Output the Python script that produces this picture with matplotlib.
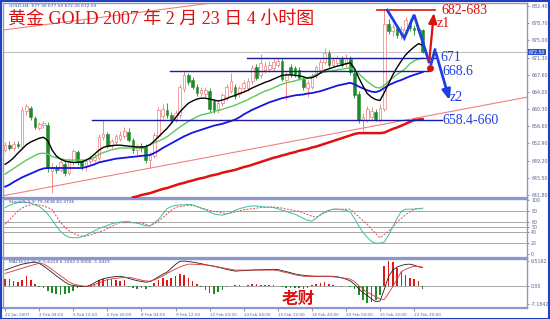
import matplotlib
matplotlib.use("Agg")
import matplotlib.pyplot as plt
import numpy as np
from matplotlib.transforms import blended_transform_factory

# ---------------- data ----------------
opens = [651.5, 652.5, 652.0, 652.8, 652.1, 659.8, 660.5, 658.3, 656.2, 656.8,
         656.9, 647.0, 647.6, 647.2, 648.5, 646.6, 648.8, 651.0, 649.0, 648.0,
         649.0, 649.3, 649.8, 654.3, 654.9, 652.3, 653.2, 653.9, 654.5, 655.4,
         653.6, 651.5, 652.3, 652.2, 649.4, 650.2, 654.5, 658.8, 660.0, 659.0,
         658.1, 659.0, 664.6, 667.6, 666.6, 665.0, 663.7, 663.4, 664.2, 662.0,
         660.0, 661.5, 662.8, 664.2, 665.0, 663.5, 664.7, 664.8, 666.2, 669.3,
         667.5, 668.6, 668.8, 669.0, 669.8, 670.6, 666.4, 669.3, 669.0, 668.6,
         666.8, 664.8, 665.0, 667.4, 668.6, 670.4, 672.3, 669.8, 670.2, 671.0,
         669.9, 671.0, 668.0, 663.6, 657.9, 658.0, 658.5, 659.7, 658.0, 660.3,
         678.5, 677.0, 677.6, 676.2, 677.2, 679.0, 677.6, 677.4, 677.3]
highs = [653.2, 653.5, 653.5, 653.4, 660.8, 661.4, 661.0, 658.8, 657.5, 657.8,
         657.4, 648.6, 648.3, 649.4, 649.0, 649.8, 651.6, 651.5, 649.6, 649.6,
         650.2, 650.6, 654.8, 657.9, 655.4, 653.8, 655.0, 655.5, 656.5, 656.2,
         654.1, 652.8, 653.0, 652.7, 651.0, 655.3, 660.8, 661.3, 661.5, 659.6,
         660.0, 665.6, 668.4, 668.1, 667.2, 665.6, 665.0, 665.0, 664.8, 662.5,
         662.3, 663.8, 665.6, 668.0, 665.6, 665.3, 666.6, 667.0, 669.8, 670.0,
         672.0, 670.4, 670.5, 671.0, 671.2, 671.2, 668.3, 670.0, 669.6, 669.2,
         667.4, 666.5, 667.9, 669.8, 671.0, 673.4, 673.0, 671.5, 671.8, 671.6,
         672.0, 671.6, 668.6, 664.2, 659.4, 660.9, 660.6, 660.3, 661.3, 681.8,
         679.6, 678.6, 678.0, 678.0, 680.0, 679.6, 678.4, 678.0, 677.5]
lows = [651.0, 651.5, 651.3, 651.8, 651.5, 659.0, 658.0, 656.0, 655.8, 656.3,
        646.8, 642.3, 646.5, 646.7, 645.8, 646.0, 648.3, 648.3, 647.2, 647.0,
        648.5, 648.8, 649.3, 653.6, 651.8, 651.9, 652.8, 653.5, 654.1, 653.1,
        650.9, 650.4, 651.1, 648.7, 647.6, 649.8, 654.0, 658.2, 658.4, 657.4,
        657.5, 658.4, 664.0, 665.4, 664.5, 663.0, 663.0, 662.8, 659.6, 659.4,
        659.5, 661.0, 662.3, 663.8, 662.4, 662.9, 664.2, 664.2, 665.7, 666.4,
        667.0, 668.0, 668.2, 668.5, 669.2, 666.2, 662.2, 667.2, 667.2, 666.5,
        664.4, 662.8, 664.5, 666.9, 668.0, 669.9, 669.1, 669.2, 669.6, 669.2,
        669.4, 667.6, 662.6, 657.2, 655.5, 657.5, 657.9, 657.6, 657.4, 659.8,
        676.4, 676.0, 675.6, 675.4, 676.8, 677.0, 676.2, 676.8, 672.2]
closes = [652.5, 652.0, 652.8, 652.3, 660.0, 661.0, 658.5, 656.5, 657.0, 657.3,
          647.6, 647.8, 647.2, 648.8, 646.5, 649.0, 651.2, 648.9, 648.0, 649.2,
          649.6, 650.0, 654.3, 655.0, 652.3, 653.3, 654.4, 654.7, 655.6, 653.6,
          651.5, 652.3, 651.8, 649.3, 650.5, 654.6, 660.0, 660.2, 659.0, 658.0,
          659.4, 665.0, 667.6, 666.0, 665.0, 663.7, 664.4, 664.4, 660.2, 660.0,
          661.6, 663.2, 665.0, 666.3, 663.0, 664.7, 665.8, 666.3, 669.1, 667.0,
          670.1, 669.6, 669.8, 670.4, 670.6, 666.8, 667.6, 667.8, 667.8, 667.0,
          665.0, 665.9, 667.2, 669.2, 670.4, 672.3, 669.7, 670.8, 671.2, 669.8,
          671.2, 668.2, 663.3, 657.9, 658.6, 660.2, 659.8, 658.2, 660.4, 678.5,
          677.0, 677.8, 676.2, 677.4, 679.3, 677.6, 677.3, 677.3, 672.5]

ma_black = [648.4, 649.0, 649.8, 650.8, 651.7, 652.6, 653.2, 653.6, 654.0, 654.2,
            653.5, 651.5, 650.2, 649.5, 649.1, 648.9, 648.8, 648.8, 648.9, 649.3,
            649.8, 650.6, 651.4, 652.0, 652.3, 652.4, 652.5, 652.5, 652.4, 652.3,
            652.2, 652.1, 652.1, 652.2, 652.6, 653.4, 654.3, 655.2, 656.1, 657.2,
            658.4, 659.6, 660.6, 661.5, 662.0, 662.4, 662.6, 662.6, 662.4, 662.2,
            662.0, 662.2, 662.5, 662.9, 663.2, 663.6, 663.9, 664.3, 664.8, 665.2,
            665.6, 666.0, 666.3, 666.7, 667.1, 667.5, 667.6, 667.6, 667.5, 667.4,
            667.2, 666.9, 667.0, 667.4, 668.0, 668.6, 668.9, 669.2, 669.5, 669.7,
            670.0, 670.2, 669.0, 667.0, 665.2, 663.6, 662.8, 662.3, 662.1, 663.8,
            665.7, 667.6, 669.2, 670.6, 671.9, 672.8, 673.6, 674.3, 674.0]
ma_green = [646.3, 646.9, 647.5, 648.1, 648.7, 649.3, 649.8, 650.3, 650.7, 650.8,
            650.6, 650.1, 649.8, 649.6, 649.4, 649.3, 649.3, 649.3, 649.3, 649.3,
            649.5, 649.9, 650.5, 650.9, 651.2, 651.5, 651.7, 651.9, 651.9, 651.9,
            651.9, 651.9, 651.9, 652.2, 652.6, 653.0, 653.4, 653.8, 654.3, 655.0,
            655.7, 656.4, 657.0, 657.6, 658.1, 658.6, 659.0, 659.2, 659.4, 659.7,
            660.0, 660.2, 660.5, 660.8, 661.1, 661.5, 661.9, 662.3, 662.8, 663.2,
            663.7, 664.1, 664.4, 664.8, 665.2, 665.6, 665.9, 666.1, 666.3, 666.6,
            666.8, 667.0, 667.3, 667.7, 668.0, 668.2, 668.4, 668.5, 668.7, 668.8,
            669.0, 669.1, 668.6, 667.9, 667.0, 666.2, 665.5, 664.9, 664.8, 665.4,
            666.2, 667.0, 667.7, 668.3, 669.0, 670.0, 670.6, 671.0, 671.2]
ma_blue = [643.6, 644.0, 644.6, 645.1, 645.6, 646.0, 646.4, 646.8, 647.2, 647.5,
           647.6, 647.6, 647.6, 647.6, 647.6, 647.6, 647.6, 647.6, 647.6, 647.8,
           648.1, 648.4, 648.8, 649.0, 649.2, 649.4, 649.6, 649.7, 649.8, 649.9,
           650.0, 650.1, 650.2, 650.3, 650.4, 650.8, 651.3, 651.9, 652.4, 652.9,
           653.4, 653.9, 654.4, 654.8, 655.2, 655.5, 655.8, 656.1, 656.4, 656.7,
           656.9, 657.1, 657.4, 657.7, 658.0, 658.5, 659.1, 659.6, 660.1, 660.5,
           660.9, 661.3, 661.7, 662.0, 662.3, 662.6, 662.8, 663.0, 663.2, 663.3,
           663.4, 663.6, 663.7, 663.9, 664.1, 664.4, 664.7, 665.0, 665.3, 665.5,
           665.7, 665.9, 665.6, 665.1, 664.7, 664.3, 664.0, 663.9, 664.2, 664.8,
           665.4, 665.8, 666.2, 666.5, 666.9, 667.3, 667.6, 667.9, 668.2]
ma_red_start = 30
ma_red = [641.3, 641.5, 641.8, 642.0, 642.2, 642.5, 642.8, 643.1, 643.3, 643.6,
          643.9, 644.2, 644.4, 644.7, 644.9, 645.2, 645.4, 645.6, 645.9, 646.1,
          646.3, 646.6, 646.8, 647.0, 647.2, 647.5, 647.8, 648.0, 648.3, 648.6,
          648.9, 649.2, 649.5, 649.8, 650.0, 650.3, 650.5, 650.8, 651.0, 651.3,
          651.5, 651.7, 652.0, 652.2, 652.5, 652.8, 653.1, 653.4, 653.7, 654.0,
          654.3, 654.6, 654.9, 655.1, 655.1, 655.1, 655.1, 655.1, 655.1, 655.2,
          655.6, 656.0, 656.3, 656.7, 657.1, 657.5, 657.9, 658.0, 658.1]

stoch_main = [86, 90, 93, 95, 96, 96, 94, 91, 88, 82, 74, 63, 52, 42, 35, 31, 30, 30, 32, 35,
              39, 43, 47, 50, 53, 56, 58, 59, 60, 60, 58, 57, 55, 52, 52, 58, 64, 74, 84, 88,
              90, 91, 91, 92, 91, 88, 85, 82, 78, 74, 73, 72, 74, 77, 81, 84, 86, 88, 89, 89,
              88, 87, 87, 86, 84, 81, 79, 76, 74, 70, 66, 62, 61, 66, 73, 78, 81, 83, 83, 82,
              81, 78, 66, 52, 40, 31, 23, 20, 20, 22, 35, 50, 66, 79, 83, 83, 83, 84, 85]
stoch_signal = [55, 63, 72, 80, 85, 89, 91, 92, 91, 89, 86, 83, 70, 58, 50, 43, 38, 35, 33, 33,
                35, 38, 41, 43, 47, 51, 55, 58, 58, 58, 58, 58, 58, 55, 52, 56, 61, 67, 74, 81,
                86, 88, 89, 90, 90, 88, 85, 83, 81, 79, 78, 76, 75, 76, 78, 80, 82, 83, 84, 85,
                86, 86, 87, 87, 86, 85, 83, 82, 80, 79, 76, 73, 70, 68, 72, 76, 80, 83, 83, 83,
                83, 83, 76, 69, 62, 55, 46, 38, 30, 36, 42, 50, 59, 66, 73, 78, 83, 84, 84]

macd_hist = [2.4, 2.4, 1.6, 1.2, 2.0, 3.6, 2.0, 0.6, -0.4, -1.0, -2.0, -3.0, -3.4, -3.6, -3.4,
             -3.0, -2.2, -1.0, -0.3, -0.2, 0.2, 0.8, 2.2, 2.6, 2.0, 2.4, 2.0, 1.6, 2.0, -0.4,
             -1.0, -1.2, -0.8, -1.4, -0.6, 1.0, 2.0, 2.8, 2.2, 2.8, 3.6, 4.4, 4.0, 3.0, 1.6,
             0.6, -0.6, -1.8, -2.8, -3.4, -2.6, -1.6, -0.6, -0.2, 0.2, 0.3, -0.1, 0.2, 0.6, 0.8,
             0.3, 0.2, 0.1, 0.05, -0.1, -0.6, -0.8, -0.9, -0.8, -1.0, -1.2, -0.8, 0.3, 0.5, 0.9,
             1.2, 0.8, 0.3, -0.2, -0.4, -0.1, -0.5, -1.5, -3.5, -5.6, -6.8, -6.4, -5.6, -3.8, 7.5,
             9.5, 9.0, 7.0, 5.5, 4.0, 3.0, 2.6, 1.6, -1.2]
macd_line = [6.0, 6.6, 7.2, 7.8, 8.3, 8.6, 8.9, 9.1, 8.6, 7.6, 6.4, 5.1, 3.8, 2.6, 1.4, 0.4,
             0.0, -0.2, -0.3, -0.4, 0.2, 1.1, 2.0, 2.6, 3.0, 3.3, 3.5, 3.6, 3.3, 2.8, 2.3, 1.9,
             1.6, 1.3, 1.5, 2.4, 3.4, 4.4, 5.2, 6.7, 8.2, 9.4, 9.5, 9.3, 9.1, 8.8, 8.5, 8.1,
             7.8, 7.5, 7.1, 6.7, 6.3, 5.9, 5.6, 5.7, 5.8, 5.9, 6.0, 6.1, 6.1, 6.2, 6.2, 6.3,
             6.2, 5.8, 5.4, 5.0, 4.5, 4.2, 4.0, 3.8, 3.7, 3.6, 3.6, 3.6, 3.6, 3.6, 3.4, 3.0,
             2.5, 1.8, 0.5, -1.2, -2.8, -3.8, -5.2, -6.2, -6.0, -1.5, 3.5, 6.0, 7.2, 7.8, 8.2,
             8.3, 7.9, 7.3, 7.0]
macd_signal = [4.7, 5.2, 5.7, 6.2, 6.7, 7.2, 7.7, 8.2, 8.6, 8.4, 7.4, 6.3, 5.0, 3.8, 2.6, 1.4,
               0.6, 0.2, -0.1, -0.3, -0.2, 0.4, 1.0, 1.7, 2.3, 2.6, 2.8, 3.0, 3.1, 3.2, 2.9, 2.5,
               2.1, 1.8, 1.7, 2.2, 2.9, 3.7, 4.7, 5.6, 6.4, 7.2, 7.8, 8.3, 8.3, 8.2, 8.1, 8.0,
               7.8, 7.5, 7.2, 6.9, 6.6, 6.3, 6.0, 6.0, 6.0, 6.0, 6.0, 6.0, 6.0, 6.0, 6.0, 6.0,
               5.8, 5.4, 5.0, 4.6, 4.2, 3.9, 3.6, 3.6, 3.6, 3.6, 3.6, 3.6, 3.6, 3.4, 3.2, 3.0,
               2.8, 2.5, 1.5, 0.0, -1.4, -2.6, -3.4, -4.4, -5.2, -5.4, -3.0, -0.4, 2.5, 5.4, 6.3,
               7.0, 7.5, 7.4, 7.1]

time_labels = ["22 Jan 2007", "2 Feb 04:00", "5 Feb 12:00", "6 Feb 20:00", "8 Feb 04:00",
               "9 Feb 12:00", "12 Feb 20:00", "14 Feb 04:00", "15 Feb 12:00", "16 Feb 20:00",
               "20 Feb 04:00", "21 Feb 12:00", "22 Feb 20:00"]
time_label_bars = [0, 8, 16, 24, 32, 40, 48, 56, 64, 72, 80, 88, 96]

price_ticks = [682.40, 678.70, 675.00, 671.30, 667.60, 664.00, 660.30, 656.60,
               652.90, 649.20, 645.50, 641.80]
stoch_ticks = [100, 80, 60, 50, 40, 20, 0]
stoch_levels = [80, 60, 50, 40, 20]
macd_ticks = [9.5162, 0.0, -7.1842]
macd_tick_labels = ["9.5162", "0.00", "-7.1842"]
last_price = 672.50

# annotation levels (price, start bar, end bar)
level_prices = [671.2, 668.4, 657.9]
level_start = [56.8, 38.7, 20.4]
level_end = [101.0, 99.5, 102.6]
target_price = 681.5
target_start, target_end = 87.3, 101.0
zig_bars = [89.7, 93.7, 96.0, 99.5]
zig_prices = [681.5, 675.5, 680.5, 670.4]
up_arrow = [(99.5, 670.0), (100.7, 681.5)]
down_path_bars = [100.0, 100.9, 104.5]
down_path_prices = [670.0, 673.0, 661.6]
dot_point = (99.8, 669.1)
trend_low = [(-0.7, 641.6), (123.0, 662.9)]
trend_high = [(-0.7, 677.2), (54.0, 683.7)]

# ---------------- figure ----------------
W, H = 550, 319
fig = plt.figure(figsize=(W / 100, H / 100), dpi=100)
fig.patch.set_facecolor("white")


def rect(x0, y0, x1, y1):
    return [x0 / W, 1 - y1 / H, (x1 - x0) / W, (y1 - y0) / H]


BORDER = "#8b97cf"
LBL = "#5a6488"
ax_p = fig.add_axes(rect(3, 3, 527, 198))
ax_s = fig.add_axes(rect(3, 199, 527, 258))
ax_m = fig.add_axes(rect(3, 259, 527, 308))

n = len(closes)
xs = np.arange(n)
for ax in (ax_p, ax_s, ax_m):
    ax.set_xlim(-0.5, 122.5)
    ax.set_facecolor("white")
    for sp in ax.spines.values():
        sp.set_color(BORDER)
        sp.set_linewidth(1.0)
    ax.spines["bottom"].set_linewidth(1.6)
    ax.yaxis.tick_right()
    ax.tick_params(axis="y", labelsize=3.4, length=1.5, pad=1.5, colors=LBL,
                   labelcolor=LBL, width=0.5)
    ax.tick_params(axis="x", length=0)
    ax.set_xticks([])

# ---- price panel ----
ax_p.set_ylim(641.16, 683.04)
o = np.array(opens); c = np.array(closes); h = np.array(highs); l = np.array(lows)
up = c >= o
UPC = "#f07a7a"
DNC = "#1f8a2a"
ax_p.vlines(xs[up], l[up], h[up], color=UPC, lw=0.6, zorder=2)
ax_p.vlines(xs[~up], l[~up], h[~up], color=DNC, lw=0.6, zorder=2)
ax_p.bar(xs[up], np.maximum(c[up] - o[up], 0.12), bottom=o[up], width=0.62,
         facecolor="white", edgecolor=UPC, linewidth=0.5, zorder=3)
ax_p.bar(xs[~up], np.maximum(o[~up] - c[~up], 0.12), bottom=c[~up], width=0.62,
         facecolor=DNC, edgecolor=DNC, linewidth=0.4, zorder=3)

ax_p.axhline(last_price, color="#b0b0b0", lw=0.6, zorder=1)

# trend lines
ax_p.plot([p[0] for p in trend_low], [p[1] for p in trend_low], color="#f08080", lw=0.8, zorder=2)
ax_p.plot([p[0] for p in trend_high], [p[1] for p in trend_high], color="#f08080", lw=0.8,
          zorder=2, clip_on=True)

ax_p.plot(xs[ma_red_start:], ma_red, color="#e01010", lw=1.8, zorder=4)
ax_p.plot(xs, ma_blue, color="#1515e0", lw=1.3, zorder=4)
ax_p.plot(xs, ma_green, color="#5cc85c", lw=1.0, zorder=4)
ax_p.plot(xs, ma_black, color="#000000", lw=1.0, zorder=5)

# levels
for pr, s, e in zip(level_prices, level_start, level_end):
    ax_p.plot([s, e], [pr, pr], color="#1a1aa0", lw=1.0, zorder=6)
ax_p.plot([target_start, target_end], [target_price, target_price], color="#e01010", lw=1.2, zorder=6)

ax_p.plot(zig_bars, zig_prices, color="#1f3fe0", lw=2.0, zorder=7, solid_joinstyle="miter")
ax_p.annotate("", xy=up_arrow[1], xytext=up_arrow[0],
              arrowprops=dict(arrowstyle="-|>,head_width=0.25,head_length=0.6", color="#e01010", lw=1.6),
              zorder=8)
ax_p.plot(down_path_bars[:2], down_path_prices[:2], color="#1f3fe0", lw=2.0, zorder=7)
ax_p.annotate("", xy=(down_path_bars[2], down_path_prices[2]),
              xytext=(down_path_bars[1], down_path_prices[1]),
              arrowprops=dict(arrowstyle="-|>,head_width=0.25,head_length=0.6", color="#1f3fe0", lw=2.0),
              zorder=8)
ax_p.plot([dot_point[0]], [dot_point[1]], "o", color="#e01010", ms=4, zorder=9)

SERIF = ["Liberation Serif", "DejaVu Serif"]
ax_p.text(102.3, 681.4, "682-683", color="#e01010", fontsize=10, family=SERIF, va="center", ha="left", zorder=9)
ax_p.text(101.2, 678.6, "z1", color="#e01010", fontsize=10, family=SERIF, va="center", ha="left", zorder=9)
ax_p.text(102.2, 671.3, "671", color="#1f3fe0", fontsize=10, family=SERIF, va="center", ha="left", zorder=9)
ax_p.text(102.6, 668.3, "668.6", color="#1f3fe0", fontsize=10, family=SERIF, va="center", ha="left", zorder=9)
ax_p.text(104.3, 662.8, "z2", color="#1f3fe0", fontsize=10, family=SERIF, va="center", ha="left", zorder=9)
ax_p.text(102.6, 657.7, "658.4-660", color="#1f3fe0", fontsize=10, family=SERIF, va="center", ha="left", zorder=9)

ax_p.set_yticks(price_ticks)
ax_p.set_yticklabels([f"{v:.2f}" for v in price_ticks])
trans = blended_transform_factory(ax_p.transAxes, ax_p.transData)
ax_p.text(1.003, last_price, f"{last_price:.2f}", transform=trans, fontsize=3.4, color="white",
          va="center", ha="left", zorder=10,
          bbox=dict(boxstyle="square,pad=0.15", facecolor="#2a4fd0", edgecolor="none"))

ax_p.text(0.012, 0.995, "GOLD,H4  677.30 677.50 672.20 672.50", transform=ax_p.transAxes,
          fontsize=3.2, color="#3a4a90", va="top", ha="left")
ax_p.text(0.01, 0.915, "黄金 GOLD 2007 年 2 月 23 日 4 小时图", transform=ax_p.transAxes,
          fontsize=13, color="#e01010", va="center", ha="left",
          family=["Liberation Serif", "Noto Sans CJK SC"], zorder=9)

# ---- stochastic panel ----
ax_s.set_ylim(-7.5, 101.9)
for lv in stoch_levels:
    ax_s.axhline(lv, color="#303030", lw=0.6, ls=(0, (1.2, 1.2)), zorder=1)
ax_s.plot(xs, stoch_main, color="#3cbf9a", lw=0.7, zorder=3)
ax_s.plot(xs, stoch_signal, color="#e04848", lw=0.7, ls=(0, (2, 1.5)), zorder=2)
ax_s.set_yticks(stoch_ticks)
ax_s.set_yticklabels([str(v) for v in stoch_ticks])
ax_s.text(0.012, 0.985, "Stoch(5,3,3) 79.3638 82.3726", transform=ax_s.transAxes,
          fontsize=3.2, color="#3a4a90", va="top", ha="left")

# ---- MACD panel ----
ax_m.set_ylim(-8.7, 10.3)
ax_m.axhline(0, color="#303030", lw=0.6, ls=(0, (1.2, 1.2)), zorder=1)
hist = np.array(macd_hist)
cols = np.where(hist >= 0, "#e01818", "#1f8a2a")
ax_m.bar(xs, hist, width=0.38, color=cols, zorder=2)
ax_m.plot(xs, macd_line, color="#202020", lw=0.6, zorder=3)
ax_m.plot(xs, macd_signal, color="#e03030", lw=0.6, zorder=3)
ax_m.set_yticks(macd_ticks)
ax_m.set_yticklabels(macd_tick_labels)
ax_m.text(0.012, 0.985, "MACD(12,26,9) 5.6220 6.1502 0.0000 -1.3423", transform=ax_m.transAxes,
          fontsize=3.2, color="#3a4a90", va="top", ha="left")
ax_m.text(65.0, -5.2, "老财", color="#e01010", fontsize=12, weight="bold",
          family=["Noto Sans CJK SC"], va="center", ha="left", zorder=9)

ax_m.set_xticks(time_label_bars)
ax_m.set_xticklabels(time_labels, ha="left")
ax_m.tick_params(axis="x", labelsize=3.0, length=2, pad=1.5, colors=LBL,
                 labelcolor=LBL, width=0.5, direction="out")

# outer border
fig.add_artist(plt.Rectangle((0.5 / W, 0.5 / H), (W - 1.5) / W, (H - 1.5) / H,
                             transform=fig.transFigure, fill=False, edgecolor="#2040c0", lw=1.5))

fig.savefig("out.png", dpi=100, facecolor="white")
